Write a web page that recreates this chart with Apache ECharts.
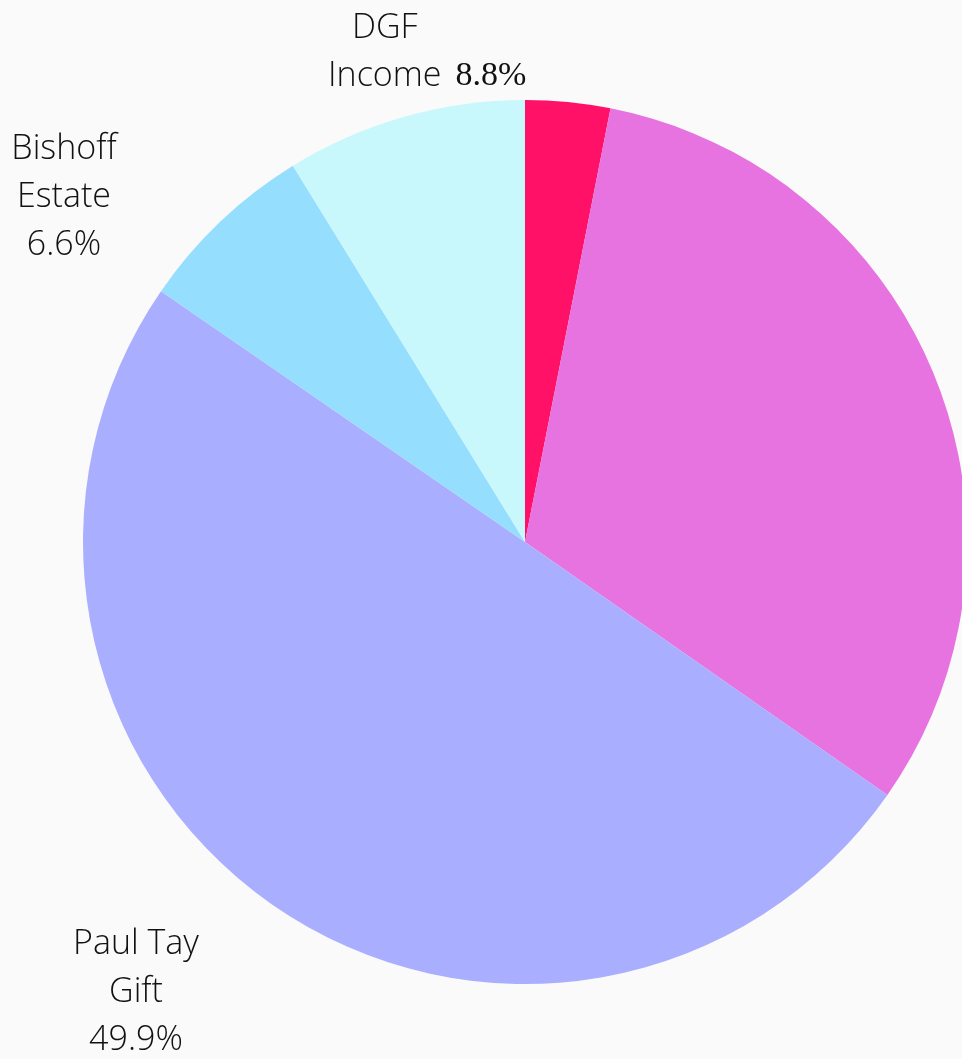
<!DOCTYPE html>
<html>
<head>
<meta charset="utf-8">
<script src="https://cdn.jsdelivr.net/npm/echarts@6/dist/echarts.min.js"></script>
<style>
html,body{margin:0;padding:0;background:#fafafa;}
#chart{width:962px;height:1059px;}
</style>
</head>
<body>
<div id="chart"></div>
<script>
const categories = ['Other A', 'Other B', 'Paul Tay Gift', 'Bishoff Estate', 'DGF Income'];
const values = [3.1, 31.6, 49.9, 6.6, 8.8];
const colors = ['#ff1168', '#e773e0', '#aaaeff', '#96defd', '#c8f8fc'];
const showLabel = [false, false, true, true, true];

const chart = echarts.init(document.getElementById('chart'));
const textStyle = { fontFamily: '"Open Sans"', fontWeight: 300, fontSize: 34, color: '#111', lineHeight: 48 };

const labelFor = {
  'Paul Tay Gift': { formatter: 'Paul Tay\nGift\n{c}%', align: 'center', x: 136, y: 992 },
  'Bishoff Estate': { formatter: 'Bishoff\nEstate\n{c}%', align: 'center', x: 64, y: 197 },
  'DGF Income': { formatter: '{p|DGF}\n{t|Income}{s|{c}%}', align: 'left', x: 328, y: 52 }
};

const data = categories.map((name, i) => {
  const d = { name: name, value: values[i], itemStyle: { color: colors[i] } };
  if (!showLabel[i]) {
    d.label = { show: false };
  } else {
    const L = labelFor[name];
    d.label = {
      show: true,
      position: 'outside',
      formatter: L.formatter,
      align: L.align,
      ...textStyle,
      rich: {
        p: { ...textStyle, padding: [0, 0, 0, 24] },
        t: { ...textStyle },
        s: { ...textStyle, fontFamily: '"Liberation Serif"', fontWeight: 'normal', fontSize: 34, padding: [0, 0, 0, 14] }
      }
    };
    d.labelLine = { show: false };
  }
  return d;
});

chart.setOption({
  backgroundColor: '#fafafa',
  animation: false,
  series: [{
    type: 'pie',
    center: [525, 542],
    radius: 442,
    startAngle: 90,
    clockwise: true,
    itemStyle: { borderWidth: 0 },
    emphasis: { disabled: true },
    data: data,
    labelLine: { show: false },
    labelLayout: function (params) {
      const name = categories[params.dataIndex];
      const L = labelFor[name];
      if (!L) return {};
      return { x: L.x, y: L.y, align: L.align, verticalAlign: 'middle' };
    }
  }]
});
</script>
</body>
</html>
